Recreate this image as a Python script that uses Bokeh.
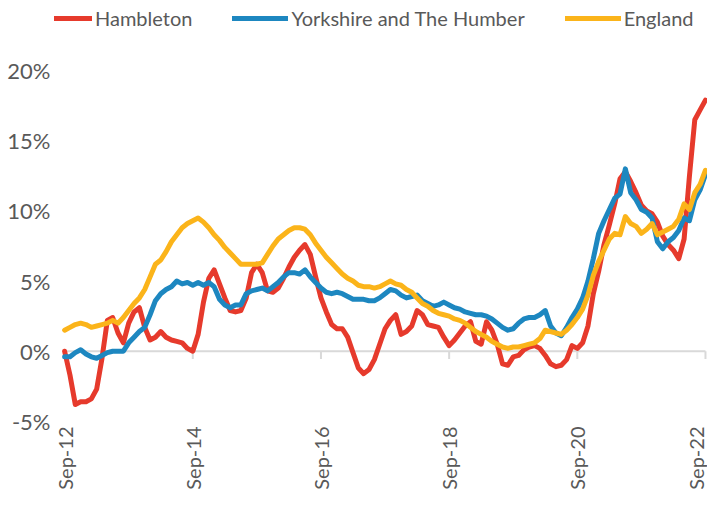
import math
from bokeh.plotting import figure
from bokeh.models import Legend, LegendItem, FixedTicker
from bokeh.embed import file_html
from bokeh.resources import INLINE

# month index 0 = Sep-12 ... 120 = Sep-22
months = list(range(121))

hambleton = [
    0.0, -1.7, -3.8, -3.6, -3.6, -3.4, -2.7, -0.5, 2.2, 2.4,
    1.3, 0.6, 2.0, 2.8, 3.1, 1.7, 0.8, 1.0, 1.4, 1.0,
    0.8, 0.7, 0.6, 0.2, 0.0, 1.2, 3.5, 5.2, 5.8, 4.8,
    3.8, 2.9, 2.8, 2.9, 3.8, 5.6, 6.2, 5.6, 4.3, 4.2,
    4.5, 5.2, 6.0, 6.7, 7.2, 7.6, 6.9, 5.3, 3.8, 2.8,
    1.9, 1.6, 1.6, 1.0, -0.1, -1.2, -1.6, -1.3, -0.6, 0.5,
    1.6, 2.2, 2.6, 1.2, 1.4, 1.8, 2.9, 2.6, 1.9, 1.8,
    1.7, 1.0, 0.4, 0.8, 1.3, 1.8, 2.1, 0.7, 0.5, 2.1,
    1.5, 0.5, -0.9, -1.0, -0.4, -0.3, 0.1, 0.3, 0.4, 0.2,
    -0.3, -0.9, -1.1, -1.0, -0.6, 0.4, 0.2, 0.6, 1.8, 4.1,
    5.7, 7.6, 9.0, 10.5, 12.3, 12.8, 12.1, 11.3, 10.4, 10.0,
    9.8, 9.2, 8.2, 7.6, 7.2, 6.6, 8.0, 12.5, 16.5, 17.2,
    17.9,
]

yorkshire = [
    -0.4, -0.4, -0.1, 0.1, -0.2, -0.4, -0.5, -0.3, -0.1, 0.0,
    0.0, 0.0, 0.6, 1.0, 1.4, 1.7, 2.6, 3.6, 4.1, 4.4,
    4.6, 5.0, 4.8, 4.9, 4.7, 4.9, 4.7, 4.9, 4.6, 3.7,
    3.3, 3.1, 3.3, 3.3, 4.1, 4.3, 4.4, 4.5, 4.3, 4.6,
    4.9, 5.3, 5.6, 5.6, 5.5, 5.8, 5.3, 4.9, 4.5, 4.2,
    4.1, 4.2, 4.1, 3.9, 3.7, 3.7, 3.7, 3.6, 3.6, 3.8,
    4.1, 4.4, 4.3, 4.0, 3.8, 3.9, 4.0, 3.6, 3.4, 3.2,
    3.3, 3.5, 3.3, 3.1, 3.0, 2.8, 2.7, 2.6, 2.6, 2.5,
    2.3, 2.0, 1.7, 1.5, 1.6, 2.0, 2.3, 2.4, 2.4, 2.6,
    2.9, 1.8, 1.3, 1.1, 1.7, 2.4, 3.0, 3.8, 5.0, 6.6,
    8.4, 9.3, 10.1, 10.9, 11.2, 13.0, 11.3, 10.8, 10.1, 9.9,
    9.5, 7.8, 7.3, 7.8, 8.1, 8.6, 9.5, 9.3, 10.8, 11.5,
    12.6,
]

england = [
    1.5, 1.7, 1.9, 2.0, 1.9, 1.7, 1.8, 1.9, 2.0, 2.2,
    2.0, 2.4, 2.9, 3.4, 3.8, 4.4, 5.3, 6.2, 6.5, 7.1,
    7.8, 8.3, 8.8, 9.1, 9.3, 9.5, 9.2, 8.8, 8.3, 7.9,
    7.4, 7.0, 6.6, 6.2, 6.2, 6.2, 6.2, 6.3, 6.9, 7.5,
    8.0, 8.3, 8.6, 8.8, 8.8, 8.7, 8.3, 7.7, 7.2, 6.7,
    6.3, 5.9, 5.5, 5.2, 5.0, 4.7, 4.6, 4.6, 4.5, 4.6,
    4.8, 5.0, 4.8, 4.7, 4.4, 4.2, 3.8, 3.4, 3.2, 2.9,
    2.7, 2.6, 2.5, 2.3, 2.2, 2.0, 1.7, 1.4, 1.2, 1.0,
    0.7, 0.5, 0.3, 0.2, 0.3, 0.3, 0.4, 0.5, 0.6, 0.9,
    1.5, 1.4, 1.3, 1.2, 1.5, 1.9, 2.4, 3.0, 4.0, 5.4,
    6.4, 7.2, 8.0, 8.4, 8.3, 9.6, 9.1, 8.9, 8.4, 8.7,
    9.1, 8.3, 8.5, 8.7, 8.9, 9.4, 10.5, 10.1, 11.3, 11.9,
    12.9,
]

series_names = ["Hambleton", "Yorkshire and The Humber", "England"]
series_colors = ["#E63A2C", "#1D87C0", "#FBB41A"]

x_tick_pos = [0, 24, 48, 72, 96, 120]
x_tick_labels = ["Sep-12", "Sep-14", "Sep-16", "Sep-18", "Sep-20", "Sep-22"]
y_ticks = [-5, 0, 5, 10, 15, 20]
y_tick_labels = ["-5%", "0%", "5%", "10%", "15%", "20%"]

FONT = "Lato"
TXT = "#595959"

p = figure(width=707, height=492, output_backend="svg", toolbar_location=None,
           x_range=(-1.896, 120.379), y_range=(-5.652, 25.0))
p.min_border = 0
p.min_border_left = 54
p.min_border_right = 0
p.min_border_top = 0
p.min_border_bottom = 60
p.xgrid.visible = False
p.ygrid.visible = False
p.outline_line_color = None
p.background_fill_color = "white"
p.border_fill_color = "white"

# zero line + ticks
p.line(x=[months[0], months[-1]], y=[0, 0], line_color="#D9D9D9", line_width=2)
p.segment(x0=x_tick_pos, y0=[0] * len(x_tick_pos), x1=x_tick_pos,
          y1=[-0.55] * len(x_tick_pos), line_color="#D9D9D9", line_width=2)

renderers = []
for name, vals, col in zip(series_names, [hambleton, yorkshire, england], series_colors):
    r = p.line(x=months, y=vals, line_color=col, line_width=5,
               line_join="round", line_cap="round")
    renderers.append(r)

legend = Legend(items=[LegendItem(label=n, renderers=[r]) for n, r in zip(series_names, renderers)],
                orientation="horizontal", location=(-18, 400),
                glyph_width=56, glyph_height=20, label_standoff=3, spacing=40,
                padding=0, margin=0, border_line_color=None, background_fill_alpha=0,
                label_text_font=FONT, label_text_font_size="20px", label_text_color=TXT)
p.add_layout(legend)

xa = p.xaxis[0]
xa.ticker = FixedTicker(ticks=x_tick_pos)
xa.major_label_overrides = dict(zip(x_tick_pos, x_tick_labels))
xa.major_label_orientation = math.pi / 2
xa.axis_line_color = None
xa.major_tick_line_color = None
xa.minor_tick_line_color = None
xa.major_tick_out = 0
xa.major_tick_in = 0
xa.minor_tick_out = 0
xa.minor_tick_in = 0
xa.major_label_standoff = -4
xa.major_label_text_font = FONT
xa.major_label_text_font_size = "20px"
xa.major_label_text_color = TXT

ya = p.yaxis[0]
ya.ticker = FixedTicker(ticks=y_ticks)
ya.major_label_overrides = dict(zip(y_ticks, y_tick_labels))
ya.axis_line_color = None
ya.major_tick_line_color = None
ya.minor_tick_line_color = None
ya.major_tick_out = 0
ya.major_tick_in = 0
ya.minor_tick_out = 0
ya.minor_tick_in = 0
ya.major_label_standoff = 4
ya.major_label_text_font = FONT
ya.major_label_text_font_size = "22px"
ya.major_label_text_color = TXT

open("out.html", "w").write(file_html(p, INLINE))
